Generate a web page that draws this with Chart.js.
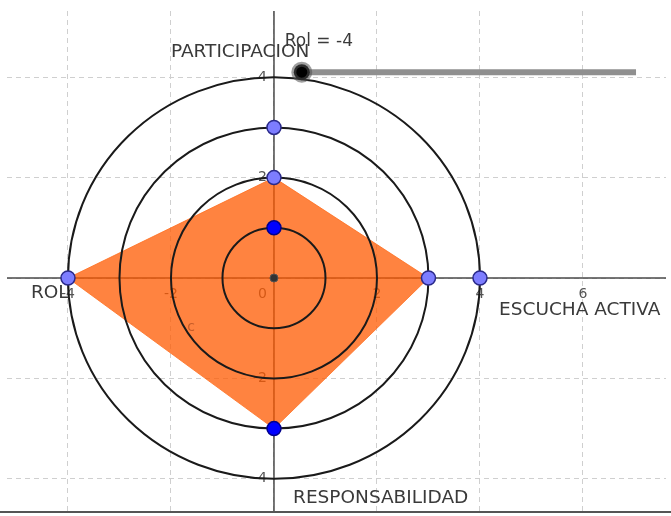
<!DOCTYPE html>
<html>
<head>
<meta charset="utf-8">
<script src="https://cdn.jsdelivr.net/npm/chart.js@4.4.0/dist/chart.umd.min.js"></script>
<style>
  html, body { margin: 0; padding: 0; background: #fff; }
  canvas { display: block; }
</style>
</head>
<body>
<canvas id="radarCanvas" width="671" height="516"></canvas>
<script>
// view window (graph units)
const xRange = [-5.184, 7.612];
const yRange = [-4.661, 5.319];
const xTicks = [-4, -2, 2, 4, 6];
const yTicks = [4, 2, -2, -4];
const circleRadii = [1, 2, 3, 4];

// the orange polygon (closed)
const polygonX = [0, 3, 0, -4, 0];
const polygonY = [2, 0, -3, 0, 2];

// light blue points and dark blue points
const lightPointsX = [0, 0, -4, 3, 4];
const lightPointsY = [3, 2, 0, 0, 0];
const bluePointsX = [0, 0];
const bluePointsY = [1, -3];

// slider "Rol"
const sliderX = [0.54, 7.03];
const sliderY = [4.1, 4.1];
const sliderValue = -4;

// axis names
const axisLabels = ['PARTICIPACION', 'ESCUCHA ACTIVA', 'RESPONSABILIDAD', 'ROL'];
const axisLabelX = [-2.0, 4.37, 0.37, -4.72];
const axisLabelY = [4.5, -0.64, -4.38, -0.30];

function zip(xs, ys) {
    return xs.map((v, i) => ({ x: v, y: ys[i] }));
}

const POLY_INDEX = 5;

const geoPlugin = {
    id: 'geoPlugin',
    beforeDatasetsDraw(chart) {
        const { ctx, chartArea: a, scales: { x, y } } = chart;
        const x0 = x.getPixelForValue(0);
        const y0 = y.getPixelForValue(0);
        ctx.save();
        // axes
        ctx.strokeStyle = '#4a4a4a';
        ctx.lineWidth = 1.5;
        ctx.beginPath();
        ctx.moveTo(a.left, y0);
        ctx.lineTo(a.right, y0);
        ctx.moveTo(x0, a.top);
        ctx.lineTo(x0, a.bottom);
        ctx.stroke();
        // bottom border of the view
        ctx.strokeStyle = '#555';
        ctx.lineWidth = 2;
        ctx.beginPath();
        ctx.moveTo(0, a.bottom);
        ctx.lineTo(chart.width, a.bottom);
        ctx.stroke();
        // tick labels
        ctx.font = '14px "DejaVu Sans"';
        ctx.fillStyle = '#555';
        ctx.textAlign = 'center';
        ctx.textBaseline = 'top';
        xTicks.forEach(v => ctx.fillText(String(v), x.getPixelForValue(v), y0 + 9));
        ctx.textAlign = 'right';
        ctx.fillText('0', x0 - 7, y0 + 9);
        ctx.textBaseline = 'middle';
        yTicks.forEach(v => ctx.fillText(String(v), x0 - 7, y.getPixelForValue(v)));
        ctx.restore();
    },
    afterDatasetDraw(chart, args) {
        if (args.index !== POLY_INDEX) return;
        const { ctx, scales: { x, y } } = chart;
        const cx = x.getPixelForValue(0);
        const cy = y.getPixelForValue(0);
        ctx.save();
        ctx.strokeStyle = '#1a1a1a';
        ctx.lineWidth = 2;
        circleRadii.forEach(r => {
            const rx = x.getPixelForValue(r) - cx;
            const ry = cy - y.getPixelForValue(r);
            ctx.beginPath();
            ctx.ellipse(cx, cy, rx, ry, 0, 0, Math.PI * 2);
            ctx.stroke();
        });
        // polygon label
        ctx.font = '14px "DejaVu Sans"';
        ctx.fillStyle = 'rgba(150,60,20,0.55)';
        ctx.textAlign = 'center';
        ctx.textBaseline = 'middle';
        ctx.fillText('c', x.getPixelForValue(-1.61), y.getPixelForValue(-0.98));
        ctx.restore();
    },
    afterDraw(chart) {
        const { ctx, scales: { x, y } } = chart;
        ctx.save();
        ctx.font = '18.5px "DejaVu Sans"';
        ctx.fillStyle = '#3a3a3a';
        ctx.textAlign = 'left';
        ctx.textBaseline = 'middle';
        axisLabels.forEach((t, i) => {
            ctx.fillText(t, x.getPixelForValue(axisLabelX[i]), y.getPixelForValue(axisLabelY[i]));
        });
        ctx.font = '17px "DejaVu Sans"';
        ctx.fillText('Rol = ' + sliderValue, x.getPixelForValue(0.21), y.getPixelForValue(4.70));
        ctx.restore();
    }
};

new Chart(document.getElementById('radarCanvas'), {
    type: 'scatter',
    data: {
        datasets: [
            {
                label: 'slider point',
                data: zip(sliderX.slice(0, 1), sliderY.slice(0, 1)),
                pointRadius: 8,
                pointBackgroundColor: '#000',
                pointBorderColor: 'rgba(80,80,80,0.55)',
                pointBorderWidth: 5
            },
            {
                label: 'slider',
                data: zip(sliderX, sliderY),
                showLine: true,
                borderColor: '#8f8f8f',
                borderWidth: 6,
                pointRadius: 0
            },
            {
                label: 'blue points',
                data: zip(bluePointsX, bluePointsY),
                pointRadius: 7,
                pointBackgroundColor: '#0000ff',
                pointBorderColor: '#00008b',
                pointBorderWidth: 1.5
            },
            {
                label: 'light points',
                data: zip(lightPointsX, lightPointsY),
                pointRadius: 7,
                pointBackgroundColor: '#7d7dff',
                pointBorderColor: '#2a2a8a',
                pointBorderWidth: 1.5
            },
            {
                label: 'origin',
                data: [{ x: 0, y: 0 }],
                pointRadius: 4,
                pointBackgroundColor: '#333',
                pointBorderColor: '#555',
                pointBorderWidth: 1
            },
            {
                label: 'c',
                data: zip(polygonX, polygonY),
                showLine: true,
                fill: 'shape',
                backgroundColor: 'rgba(255,90,0,0.75)',
                borderColor: 'rgba(255,110,30,0.8)',
                borderWidth: 1,
                pointRadius: 0
            }
        ]
    },
    options: {
        responsive: false,
        animation: false,
        events: [],
        layout: { autoPadding: false, padding: { left: 7, right: 5, top: 11, bottom: 4 } },
        plugins: {
            legend: { display: false },
            tooltip: { enabled: false }
        },
        scales: {
            x: {
                type: 'linear',
                min: xRange[0],
                max: xRange[1],
                ticks: { display: false, stepSize: 2, includeBounds: false },
                grid: { color: '#cfcfcf', lineWidth: 1, drawTicks: false },
                border: { display: false, dash: [5, 4] }
            },
            y: {
                type: 'linear',
                min: yRange[0],
                max: yRange[1],
                ticks: { display: false, stepSize: 2, includeBounds: false },
                grid: { color: '#cfcfcf', lineWidth: 1, drawTicks: false },
                border: { display: false, dash: [5, 4] }
            }
        }
    },
    plugins: [geoPlugin]
});
</script>
</body>
</html>
